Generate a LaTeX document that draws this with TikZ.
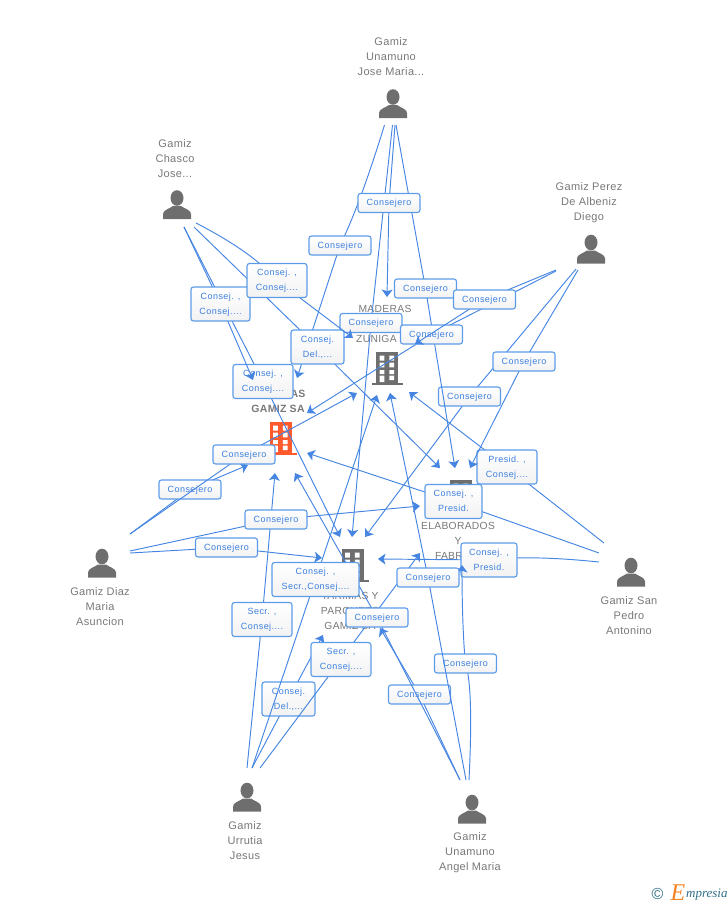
\documentclass[tikz,border=0pt]{standalone}
\usepackage{fontspec}
\setmainfont{Liberation Sans}
\newfontfamily\boxfont[LetterSpace=5]{Liberation Sans}
\newfontfamily\namefont[LetterSpace=3]{Liberation Sans}
\newfontfamily\logofont{Liberation Serif}
\usetikzlibrary{arrows.meta}
\definecolor{linkblue}{HTML}{4686E2}
\definecolor{boxblue}{HTML}{5C9BEA}
\definecolor{boxtext}{HTML}{3C80DE}
\definecolor{icongray}{HTML}{6E6E6E}
\definecolor{namegray}{HTML}{787878}
\definecolor{orangebld}{HTML}{FF5A2E}
\definecolor{logoteal}{HTML}{2F6F88}
\definecolor{logoorange}{HTML}{F58220}
\pgfdeclarelayer{backlayer}
\pgfdeclarelayer{connone}\pgfdeclarelayer{boxone}
\pgfdeclarelayer{conntwo}\pgfdeclarelayer{boxtwo}
\pgfdeclarelayer{connthree}\pgfdeclarelayer{boxthree}
\pgfdeclarelayer{connfour}\pgfdeclarelayer{boxfour}
\pgfsetlayers{backlayer,connone,boxone,conntwo,boxtwo,connthree,boxthree,connfour,boxfour,main}
\tikzset{
  conn/.style={draw=linkblue,line width=0.95pt,-{Stealth[length=7.5pt,width=11pt,inset=1.8pt]}},
  tag/.style={draw=boxblue,line width=1.1pt,rounded corners=2.5pt,top color=white,bottom color=black!5,
    text=boxtext,font=\boxfont\fontsize{9}{15}\selectfont,align=center,inner sep=0pt,text depth=0.6pt},
  tagone/.style={tag,minimum width=62pt,minimum height=19pt},
  tagtwo/.style={tag,minimum width=59pt,minimum height=34pt},
  personname/.style={text=namegray,font=\namefont\fontsize{11}{15}\selectfont,align=center,inner sep=0pt},
  compname/.style={text=namegray,font=\namefont\fontsize{10.3}{15}\selectfont,align=center,inner sep=0pt},
  compnameb/.style={text=namegray,font=\namefont\bfseries\fontsize{10.5}{15}\selectfont,align=center,inner sep=0pt},
  anchorbox/.style={inner sep=0pt,minimum width=28pt,minimum height=28pt},
  personicon/.pic={
    \fill[icongray] (0,-7) ellipse (6.5 and 7.8);
    \fill[icongray] (-14,14) -- (-14,9) .. controls (-14,5) and (-8,4) .. (-4,1) -- (4,1)
       .. controls (8,4) and (14,5) .. (14,9) -- (14,14) -- cycle;
  },
  bldicon/.pic={
    \fill[#1] (-11,-17) rectangle (11,15);
    \fill[#1] (-15,14) rectangle (16,16);
    \fill[white] (-7.3,-13.3) rectangle (-2.7,-8.3) (2.3,-13.3) rectangle (7,-8.3)
                 (-7.3,-6.3) rectangle (-2.7,-1.7) (2.3,-6.3) rectangle (7,-1.7)
                 (-7.3,1) rectangle (-2.7,5) (2.3,1) rectangle (7,5)
                 (-7.3,6.7) rectangle (-2.7,13) (2.3,6.7) rectangle (7,11);
  }
}
\begin{document}
\begin{tikzpicture}[x=1pt,y=-1pt]
\useasboundingbox (0,0) rectangle (728,905);
% label boxes, lowest tier first: later connectors run over earlier boxes
\begin{pgfonlayer}{boxone}
\node[tagone] (L11) at (469.5,396.5) {Consejero};
\node[tagone] (L6) at (371,323) {Consejero};
\node[tagone] (L2) at (340,245.5) {Consejero};
\node[tagtwo,minimum width=60pt] (L12) at (263,381.5) {Consej. ,\\Consej....};
\node[tagone] (L14) at (190,489.5) {Consejero};
\node[tagone] (L16) at (226.5,547.5) {Consejero};
\node[tagtwo,minimum width=60pt] (L17) at (507,467) {Presid. ,\\Consej....};
\node[tagtwo,minimum width=57pt] (L18) at (453.5,501.5) {Consej. ,\\Presid.};
\node[tagtwo,minimum width=56pt] (L19) at (489,560) {Consej. ,\\Presid.};
\node[tagtwo,minimum width=60pt] (L23) at (262,619.5) {Secr. ,\\Consej....};
\node[tagtwo,minimum width=53pt] (L25) at (288.5,699) {Consej.\\Del.,...};
\node[tagone] (L27) at (419.5,694.5) {Consejero};
\end{pgfonlayer}
\begin{pgfonlayer}{boxtwo}
\node[tagone] (L7) at (425.5,288.5) {Consejero};
\node[tagone] (L9) at (431.5,334.5) {Consejero};
\node[tagone] (L1) at (389,203) {Consejero};
\node[tagtwo] (L4) at (220.5,304) {Consej. ,\\Consej....};
\node[tagtwo,minimum width=53pt] (L5) at (317.5,347) {Consej.\\Del.,...};
\node[tagone] (L10) at (524,361.5) {Consejero};
\node[tagone] (L13) at (244,454.5) {Consejero};
\node[tagone] (L15) at (276,519.5) {Consejero};
\node[tagtwo,minimum width=60pt] (L24) at (341,659.5) {Secr. ,\\Consej....};
\node[tagone] (L26) at (465.5,663.5) {Consejero};
\end{pgfonlayer}
\begin{pgfonlayer}{boxthree}
\node[tagone] (L8) at (484.5,299.5) {Consejero};
\node[tagtwo,minimum width=60pt] (L3) at (277,280.5) {Consej. ,\\Consej....};
\node[tagone] (L20) at (428,577.5) {Consejero};
\node[tagone] (L22) at (377,617.5) {Consejero};
\end{pgfonlayer}
\begin{pgfonlayer}{boxfour}
\node[tagtwo,minimum width=87pt] (L21) at (315.5,579.5) {Consej. ,\\Secr.,Consej....};
\end{pgfonlayer}
% people and companies
\begin{pgfonlayer}{backlayer}
\node[anchorbox] (jose) at (393,104) {}; \pic at (jose) {personicon};
\node[personname] (josename) at (391,56.5) {Gamiz\\Unamuno\\Jose Maria...};
\node[anchorbox] (chasco) at (177,205) {}; \pic at (chasco) {personicon};
\node[personname] (chasconame) at (175,158.5) {Gamiz\\Chasco\\Jose...};
\node[anchorbox] (perez) at (591,249.5) {}; \pic at (perez) {personicon};
\node[personname] (perezname) at (589,202.5) {Gamiz Perez\\De Albeniz\\Diego};
\node[anchorbox] (diaz) at (102,563.5) {}; \pic at (diaz) {personicon};
\node[personname] (diazname) at (100,606.5) {Gamiz Diaz\\Maria\\Asuncion};
\node[anchorbox] (sanpedro) at (631,572.5) {}; \pic at (sanpedro) {personicon};
\node[personname] (sanpedroname) at (629,615.5) {Gamiz San\\Pedro\\Antonino};
\node[anchorbox] (urrutia) at (247,797.5) {}; \pic at (urrutia) {personicon};
\node[personname] (urrutianame) at (245,840.5) {Gamiz\\Urrutia\\Jesus};
\node[anchorbox] (angel) at (472,809.5) {}; \pic at (angel) {personicon};
\node[personname] (angelname) at (470,852.5) {Gamiz\\Unamuno\\Angel Maria};
\node[anchorbox] (compA) at (387,369) {}; \pic at (compA) {bldicon=icongray};
\node[compname] (compAname) at (385,323.5) {MADERAS\\\phantom{Y}\\ZUNIGA SA};
\node[anchorbox] (compB) at (280.5,439) {}; \pic at (compB) {bldicon=orangebld};
\node[compnameb] (compBname) at (278,401) {MADERAS\\GAMIZ SA};
\node[anchorbox] (compC) at (461,497) {}; \pic at (compC) {bldicon=icongray};
\node[compname] (compCname) at (458,540.5) {ELABORADOS\\Y\\FABRICA};
\node[anchorbox] (compD) at (352.5,566) {}; \pic at (compD) {bldicon=icongray};
\node[compname] (compDname) at (350,610.5) {TARIMAS Y\\PARQUETS\\GAMIZ SA};
\end{pgfonlayer}
% free ends
\coordinate (jA) at (395,125); \coordinate (jB) at (384.5,125); \coordinate (jC) at (396,125); \coordinate (jD) at (392.5,125);
\coordinate (cA) at (196,223); \coordinate (cB) at (184,227); \coordinate (cC) at (194,227); \coordinate (cD) at (184,227);
\coordinate (pA) at (556,270); \coordinate (pB) at (556,271); \coordinate (pC) at (578,270); \coordinate (pD) at (576,269);
\coordinate (dA) at (130,534); \coordinate (dB) at (130,534); \coordinate (dC) at (130,551); \coordinate (dD) at (130,553);
\coordinate (sA) at (604,543); \coordinate (sB) at (599,553); \coordinate (sD) at (599,562);
\coordinate (uA) at (252,768); \coordinate (uB) at (247,768); \coordinate (uC) at (260,768); \coordinate (uD) at (252,768);
\coordinate (aA) at (466,780); \coordinate (aB) at (460,780); \coordinate (aC) at (469,780); \coordinate (aD) at (460,780);
% arrow tips at companies
\coordinate (tAj) at (387,297); \coordinate (tAc) at (353,338); \coordinate (tAp) at (415,344);
\coordinate (tAd) at (357,393); \coordinate (tAu) at (377,395); \coordinate (tAa) at (390,393); \coordinate (tAs) at (409,392);
\coordinate (tBj) at (297,378); \coordinate (tBc) at (253,380); \coordinate (tBp) at (307,413);
\coordinate (tBd) at (248,465); \coordinate (tBu) at (275,473); \coordinate (tBa) at (295,473); \coordinate (tBs) at (307,453);
\coordinate (tCc) at (440,468); \coordinate (tCj) at (455,468); \coordinate (tCp) at (470,468);
\coordinate (tCd) at (420,506); \coordinate (tCu) at (420,553); \coordinate (tCa) at (462,565);
\coordinate (tDc) at (340,537); \coordinate (tDj) at (352,537); \coordinate (tDp) at (365,537);
\coordinate (tDd) at (322,558); \coordinate (tDs) at (378,559); \coordinate (tDu) at (323,635); \coordinate (tDa) at (380,628);
% connectors
\begin{pgfonlayer}{connone}
\draw[conn] (pD) -- (L11.center) -- (tDp);
\draw[conn] (jB) .. controls (370,172) and (355,215) .. (L2.center) -- (tBj);
\draw[conn] (jD) -- (L6.center) -- (tDj);
\draw[conn] (cD) -- (L12.center) -- (tDc);
\draw[conn] (dB) -- (L14.center) -- (tBd);
\draw[conn] (dD) -- (L16.center) -- (tDd);
\draw[conn] (sA) -- (L17.center) -- (tAs);
\draw[conn] (sB) -- (L18.center) -- (tBs);
\draw[conn] (sD) .. controls (560,558) and (520,556) .. (L19.center) -- (tDs);
\draw[conn] (uB) -- (L23.center) -- (tBu);
\draw[conn] (uD) -- (L25.center) -- (tDu);
\draw[conn] (aD) -- (L27.center) -- (tDa);
\end{pgfonlayer}
\begin{pgfonlayer}{conntwo}
\draw[conn] (jC) -- (L7.center) -- (tCj);
\draw[conn] (pB) -- (L9.center) -- (tBp);
\draw[conn] (jA) -- (L1.center) -- (tAj);
\draw[conn] (cB) -- (L4.center) -- (tBc);
\draw[conn] (cC) -- (L5.center) -- (tCc);
\draw[conn] (pC) -- (L10.center) -- (tCp);
\draw[conn] (dA) -- (L13.center) -- (tAd);
\draw[conn] (dC) -- (L15.center) -- (tCd);
\draw[conn] (uC) -- (L24.center) -- (tCu);
\draw[conn] (aC) .. controls (472,720) and (471,680) .. (L26.center) .. controls (463,640) and (462,600) .. (tCa);
\end{pgfonlayer}
\begin{pgfonlayer}{connthree}
\draw[conn] (pA) -- (L8.center) -- (tAp);
\draw[conn] (cA) .. controls (225,238) and (258,258) .. (L3.center) -- (tAc);
\draw[conn] (aA) -- (L20.center) -- (tAa);
\draw[conn] (aB) -- (L22.center) -- (tBa);
\end{pgfonlayer}
\begin{pgfonlayer}{connfour}
\draw[conn] (uA) -- (L21.center) -- (tAu);
\end{pgfonlayer}
% logo
\node[text=logoteal,font=\fontsize{16}{16}\selectfont,inner sep=0pt] (logoc) at (657.5,894) {©};
\node[text=logoorange,font=\logofont\itshape\fontsize{24}{24}\selectfont,inner sep=0pt] (logoe) at (678,893) {E};
\node[text=logoteal,font=\logofont\itshape\fontsize{13}{13}\selectfont,inner sep=0pt,anchor=west] (logot) at (686,895) {mpresia};
\end{tikzpicture}
\end{document}
